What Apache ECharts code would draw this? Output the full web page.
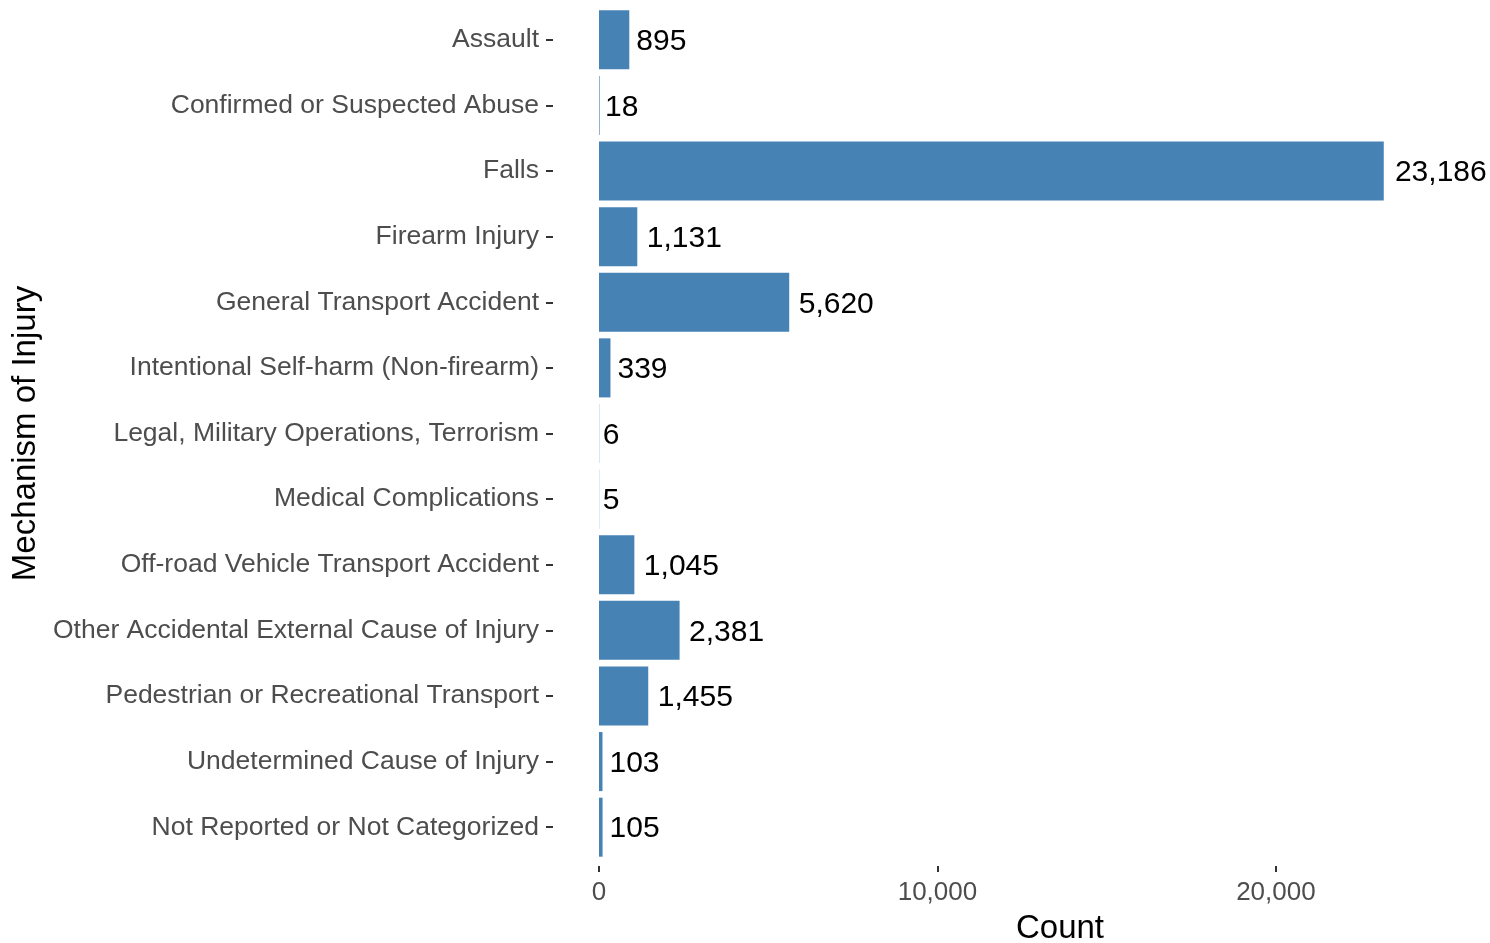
<!DOCTYPE html>
<html>
<head>
<meta charset="utf-8">
<script src="https://cdn.jsdelivr.net/npm/echarts@6/dist/echarts.min.js"></script>
<style>
  html, body { margin: 0; padding: 0; background: #fff; }
  #chart { width: 1490px; height: 943px; }
</style>
</head>
<body>
<div id="chart"></div>
<script>
const mechanisms = [
  'Assault',
  'Confirmed or Suspected Abuse',
  'Falls',
  'Firearm Injury',
  'General Transport Accident',
  'Intentional Self-harm (Non-firearm)',
  'Legal, Military Operations, Terrorism',
  'Medical Complications',
  'Off-road Vehicle Transport Accident',
  'Other Accidental External Cause of Injury',
  'Pedestrian or Recreational Transport',
  'Undetermined Cause of Injury',
  'Not Reported or Not Categorized'
]
const counts = [895, 18, 23186, 1131, 5620, 339, 6, 5, 1045, 2381, 1455, 103, 105]
const countTicks = [0, 10000, 20000]

const fmt = (v) => v.toLocaleString('en-US')
const font = 'Liberation Sans, Arial, sans-serif'
// ggplot-like padding left of zero on the count axis
const xMin = -1359
const xMax = 26000

const myChart = echarts.init(document.getElementById('chart'))

const option = {
  animation: false,
  grid: [
    // bars
    { left: 553, right: 11, top: 7, bottom: 83, outerBoundsMode: 'none' },
    // x axis ticks / labels sit a bit below the bars
    { left: 553, right: 11, top: 0, bottom: 77, outerBoundsMode: 'none' }
  ],
  xAxis: [
    { gridIndex: 0, type: 'value', min: xMin, max: xMax, show: false },
    {
      gridIndex: 1,
      type: 'value',
      min: xMin,
      max: xMax,
      name: 'Count',
      nameLocation: 'middle',
      nameGap: 46,
      nameTextStyle: { fontFamily: font, fontSize: 33, color: '#000', padding: [0, 0, 0, 88] },
      axisLine: { show: false },
      axisTick: { show: true, length: 6, customValues: countTicks, lineStyle: { color: '#333', width: 2 } },
      axisLabel: {
        margin: 14,
        fontFamily: font,
        fontSize: 26,
        color: '#4d4d4d',
        customValues: countTicks,
        formatter: (v) => fmt(v)
      },
      splitLine: { show: false }
    }
  ],
  yAxis: [
    {
      gridIndex: 0,
      type: 'category',
      data: mechanisms,
      inverse: true,
      name: 'Mechanism of Injury',
      nameLocation: 'middle',
      nameGap: 504,
      nameTextStyle: { fontFamily: font, fontSize: 33, color: '#000' },
      axisLine: { show: false, onZero: false },
      axisTick: { show: true, length: 7, alignWithLabel: true, lineStyle: { color: '#333', width: 2 } },
      axisLabel: { margin: 14, fontFamily: font, fontSize: 26.5, color: '#4d4d4d' },
      splitLine: { show: false }
    },
    { gridIndex: 1, type: 'value', min: 0, max: 1, show: false }
  ],
  series: [
    {
      type: 'bar',
      xAxisIndex: 0,
      yAxisIndex: 0,
      data: counts,
      barCategoryGap: '10%',
      itemStyle: { color: '#4682b4' },
      label: {
        show: true,
        position: 'right',
        fontFamily: font,
        fontSize: 30,
        color: '#000',
        formatter: (p) => fmt(p.value)
      },
      // like hjust = -0.1: gap grows with the label width
      labelLayout: (p) => ({
        x: p.rect.x + p.rect.width + 2 + 0.1 * p.labelRect.width,
        y: p.rect.y + p.rect.height / 2 + 2,
        align: 'left',
        verticalAlign: 'middle'
      })
    }
  ]
}
myChart.setOption(option)
</script>
</body>
</html>
